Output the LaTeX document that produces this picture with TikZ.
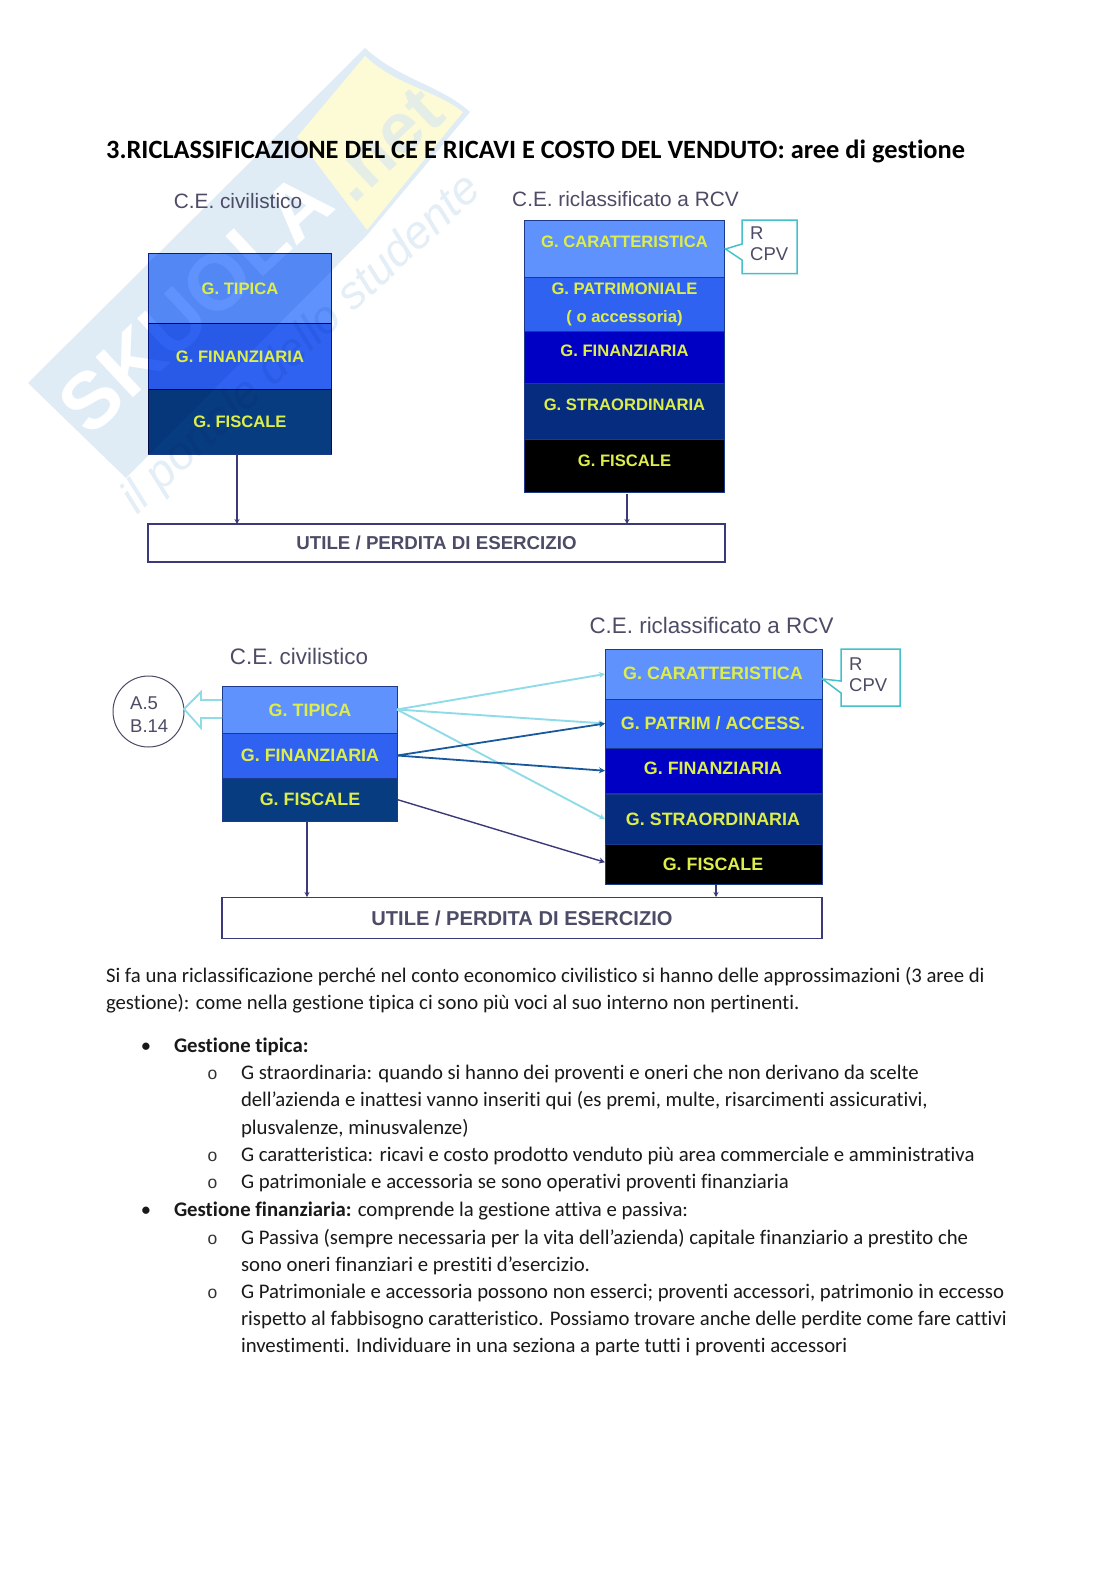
\documentclass[tikz,border=0pt]{standalone}
\usepackage{fontspec}
\setmainfont{Carlito}[Ligatures=CommonOff]
\newfontfamily\ars{Liberation Sans}
\usetikzlibrary{arrows.meta,calc}
\definecolor{cA}{HTML}{5F92FC}
\definecolor{cB}{HTML}{2F62F0}
\definecolor{cC}{HTML}{083C80}
\definecolor{cD}{HTML}{0000C4}
\definecolor{cE}{HTML}{062C80}
\definecolor{lineN}{HTML}{3A3A78}
\definecolor{edgeN}{HTML}{1C3A8C}
\definecolor{cyanL}{HTML}{8FDCE8}
\definecolor{cyanB}{HTML}{45BFCB}
\definecolor{labY}{HTML}{DDEE4A}
\definecolor{greyT}{HTML}{4C4C66}
\definecolor{wmB}{HTML}{DFECF6}
\definecolor{wmY}{HTML}{FDFAD6}
\definecolor{wmN}{HTML}{E4EEE6}
\definecolor{wmT}{HTML}{E4EEF6}
\tikzset{
  cell/.style={draw=edgeN,line width=.5pt,inner sep=0pt,outer sep=0pt},
  lab/.style={font=\ars\bfseries\fontsize{16.6}{20}\selectfont,text=labY,inner sep=0pt},
  labbig/.style={font=\ars\bfseries\fontsize{17.9}{20}\selectfont,text=labY,inner sep=0pt},
  head/.style={font=\ars\fontsize{20.8}{24}\selectfont,text=greyT,inner sep=0pt},
  headbig/.style={font=\ars\fontsize{22.4}{24}\selectfont,text=greyT,inner sep=0pt},
  totalbox/.style={draw=lineN,line width=1.3pt,fill=white,inner sep=0pt,outer sep=0pt,text=greyT},
  down/.style={draw=lineN,line width=1.2pt,-{Stealth[length=5pt,width=5pt]}},
  lightarr/.style={draw=cyanL,line width=1.9pt,-{Stealth[length=6pt,width=6pt]}},
  bluearr/.style={draw=edgeN!85!cyan,line width=1.8pt,-{Stealth[length=6pt,width=6pt]}},
  navyarr/.style={draw=lineN,line width=1.4pt,-{Stealth[length=6pt,width=6pt]}},
  note/.style={font=\ars\fontsize{18.5}{21}\selectfont,text=greyT,inner sep=0pt,align=left},
  callout/.style={draw=cyanB,line width=1.5pt,fill=white,line join=miter},
  body/.style={anchor=base west,inner sep=0pt,outer sep=0pt,font=\fontsize{20.75}{24}\selectfont,text=black!90},
  bulletmark/.style={anchor=base,inner sep=0pt,font=\fontsize{20.6}{24}\selectfont,text=black!90},
  ringmark/.style={anchor=base,inner sep=0pt,font=\ars\fontsize{17.5}{24}\selectfont,text=black!80},
  title/.style={anchor=base west,inner sep=0pt,font=\bfseries\fontsize{26.4}{30}\selectfont},
  wm/.style={inner sep=0pt,rotate=43}
}
\newcommand{\cellat}[6]{% name, x1, y1, x2, y2, colour
  \node[cell,fill=#6,minimum width={(#4-#2)*1pt},minimum height={(#5-#3)*1pt}] (#1) at ({(#2+#4)/2},{(#3+#5)/2}) {};}
\begin{document}
\begin{tikzpicture}[x=1pt,y=-1pt]
\useasboundingbox (0,0) rectangle (1116,1579);
\fill[white] (0,0) rectangle (1116,1579);
% watermark
\fill[wmB] (28,383) -- (365,48) .. controls (400,80) and (440,85) .. (470,112) -- (367,235) -- (126,478) -- cycle;
\fill[wmY] (365,56) .. controls (395,85) and (435,90) .. (463,112) -- (367,230) -- (297,137) -- cycle;
\node[wm,font=\ars\bfseries\fontsize{80}{80}\selectfont,text=white] (wmA) at (195,303) {SKUOLA};
\node[wm,font=\ars\bfseries\fontsize{72}{72}\selectfont,text=wmN] (wmD) at (385,145) {.net};
\node[wm,font=\ars\itshape\fontsize{46}{48}\selectfont,text=wmT] (wmC) at (302,345) {il portale dello studente};
% title
\node[title] (ttl) at (106,158) {3.RICLASSIFICAZIONE DEL CE E RICAVI E COSTO DEL VENDUTO: aree di gestione};
% diagram 1
\node[head] (h1) at (238,201) {C.E. civilistico};
\node[head] (h2) at (625.5,199) {C.E. riclassificato a RCV};
\begin{scope}[blend mode=multiply]
\cellat{a1}{148}{253}{331.5}{323.5}{cA}
\cellat{a2}{148}{323.5}{331.5}{389.5}{cB}
\cellat{a3}{148}{389.5}{331.5}{454}{cC}
\end{scope}
\node[lab] (a1t) at (240,289) {G. TIPICA};
\node[lab] (a2t) at (240,356.5) {G. FINANZIARIA};
\node[lab] (a3t) at (240,422) {G. FISCALE};
\cellat{b1}{524}{220}{724.5}{277}{cA}
\cellat{b2}{524}{277}{724.5}{331}{cB}
\cellat{b3}{524}{331}{724.5}{383}{cD}
\cellat{b4}{524}{383}{724.5}{439}{cE}
\cellat{b5}{524}{439}{724.5}{492}{black}
\node[lab] (b1t) at (624.5,242) {G. CARATTERISTICA};
\node[lab] (b2t) at (624.5,289) {G. PATRIMONIALE};
\node[lab] (b2u) at (624.5,318.5) {( o accessoria)};
\node[lab] (b3t) at (624.5,350.5) {G. FINANZIARIA};
\node[lab] (b4t) at (624.5,405) {G. STRAORDINARIA};
\node[lab] (b5t) at (624.5,461) {G. FISCALE};
\node[totalbox,font=\ars\bfseries\fontsize{18.7}{22}\selectfont,minimum width=577pt,minimum height=38pt] (t1) at (436.5,543) {UTILE / PERDITA DI ESERCIZIO};
\coordinate (d1a) at (237,454);
\coordinate (d1b) at (237,524);
\coordinate (d2a) at (627,494);
\coordinate (d2b) at (627,524);
\draw[down] (d1a) -- (d1b);
\draw[down] (d2a) -- (d2b);
\coordinate (c1a) at (725.5,249);
\draw[callout] (c1a) -- (742,260) -- (742,273.5) -- (797,273.5) -- (797,220) -- (742,220) -- (742,244) -- cycle;
\node[note,anchor=north west] (c1t) at (750,227) {R\\[-0.5pt]CPV};
% diagram 2
\node[headbig] (h3) at (299,656.5) {C.E. civilistico};
\node[headbig] (h4) at (711.5,625) {C.E. riclassificato a RCV};
\cellat{p1}{222}{686}{397}{733}{cA}
\cellat{p2}{222}{733}{397}{778}{cB}
\cellat{p3}{222}{778}{397}{821}{cC}
\node[labbig] (p1t) at (310,710) {G. TIPICA};
\node[labbig] (p2t) at (310,755) {G. FINANZIARIA};
\node[labbig] (p3t) at (310,799) {G. FISCALE};
\cellat{q1}{605}{649}{822}{699}{cA}
\cellat{q2}{605}{699}{822}{748}{cB}
\cellat{q3}{605}{748}{822}{793.5}{cD}
\cellat{q4}{605}{794.5}{822}{844}{cE}
\cellat{q5}{605}{844}{822}{884.5}{black}
\node[labbig] (q1t) at (713,673) {G. CARATTERISTICA};
\node[labbig] (q2t) at (713,723) {G. PATRIM / ACCESS.};
\node[labbig] (q3t) at (713,768) {G. FINANZIARIA};
\node[labbig] (q4t) at (713,819) {G. STRAORDINARIA};
\node[labbig] (q5t) at (713,864) {G. FISCALE};
\node[totalbox,font=\ars\bfseries\fontsize{20.1}{22}\selectfont,minimum width=600pt,minimum height=41pt] (t2) at (522,918) {UTILE / PERDITA DI ESERCIZIO};
\coordinate (d3a) at (307,821);
\coordinate (d3b) at (307,897);
\coordinate (d4a) at (716,884.5);
\coordinate (d4b) at (716,897);
\draw[down] (d3a) -- (d3b);
\draw[down] (d4a) -- (d4b);
\draw[lightarr] (p1.east) -- (q1.west);
\draw[lightarr] (p1.east) -- (q2.west);
\draw[lightarr] (p1.east) -- (q4.west);
\draw[bluearr] (p2.east) -- (q2.west);
\draw[bluearr] (p2.east) -- (q3.west);
\draw[navyarr] (p3.east) -- ($(q5.west)+(0,-2)$);
\coordinate (c2a) at (822.5,679);
\draw[callout] (c2a) -- (841,693) -- (841,706) -- (900,706) -- (900,649) -- (841,649) -- (841,681) -- cycle;
\node[note,anchor=north west] (c2t) at (849,657.5) {R\\[0.5pt]CPV};
\node[draw=greyT,line width=1pt,circle,minimum size=71pt,inner sep=0pt,fill=white] (circ) at (148.5,711.5) {};
\node[note,anchor=north west] (circt) at (130,697) {A.5\\[1.5pt]B.14};
\coordinate (fa) at (222,700);
\coordinate (fb) at (222,718);
\draw[draw=cyanL,fill=white,line width=1.8pt] (fa) -- (201,700) -- (201,692) -- (184,709) -- (201,728) -- (201,718) -- (fb);
% body text
\node[body] (l1) at (106,982.5) {Si fa una riclassificazione perché nel conto economico civilistico si hanno delle approssimazioni (3 aree di};
\node[body] (l2) at (106,1009.5) {gestione): come nella gestione tipica ci sono più voci al suo interno non pertinenti.};
\node[bulletmark] (m1) at (146,1052.5) {•};
\node[body] (l3) at (174,1052.5) {\textbf{Gestione tipica:}};
\node[ringmark] (m2) at (212.5,1079.5) {o};
\node[body] (l4) at (241,1079.5) {G straordinaria: quando si hanno dei proventi e oneri che non derivano da scelte};
\node[body] (l5) at (241,1106.5) {dell’azienda e inattesi vanno inseriti qui (es premi, multe, risarcimenti assicurativi,};
\node[body] (l6) at (241,1134) {plusvalenze, minusvalenze)};
\node[ringmark] (m3) at (212.5,1161) {o};
\node[body] (l7) at (241,1161) {G caratteristica: ricavi e costo prodotto venduto più area commerciale e amministrativa};
\node[ringmark] (m4) at (212.5,1188) {o};
\node[body] (l8) at (241,1188) {G patrimoniale e accessoria se sono operativi proventi finanziaria};
\node[bulletmark] (m5) at (146,1216) {•};
\node[body] (l9) at (174,1216) {\textbf{Gestione finanziaria:} comprende la gestione attiva e passiva:};
\node[ringmark] (m6) at (212.5,1244.5) {o};
\node[body] (l10) at (241,1244.5) {G Passiva (sempre necessaria per la vita dell’azienda) capitale finanziario a prestito che};
\node[body] (l11) at (241,1271.5) {sono oneri finanziari e prestiti d’esercizio.};
\node[ringmark] (m7) at (212.5,1298.5) {o};
\node[body] (l12) at (241,1298.5) {G Patrimoniale e accessoria possono non esserci; proventi accessori, patrimonio in eccesso};
\node[body] (l13) at (241,1325.5) {rispetto al fabbisogno caratteristico. Possiamo trovare anche delle perdite come fare cattivi};
\node[body] (l14) at (241,1352.5) {investimenti. Individuare in una seziona a parte tutti i proventi accessori};
\end{tikzpicture}
\end{document}
